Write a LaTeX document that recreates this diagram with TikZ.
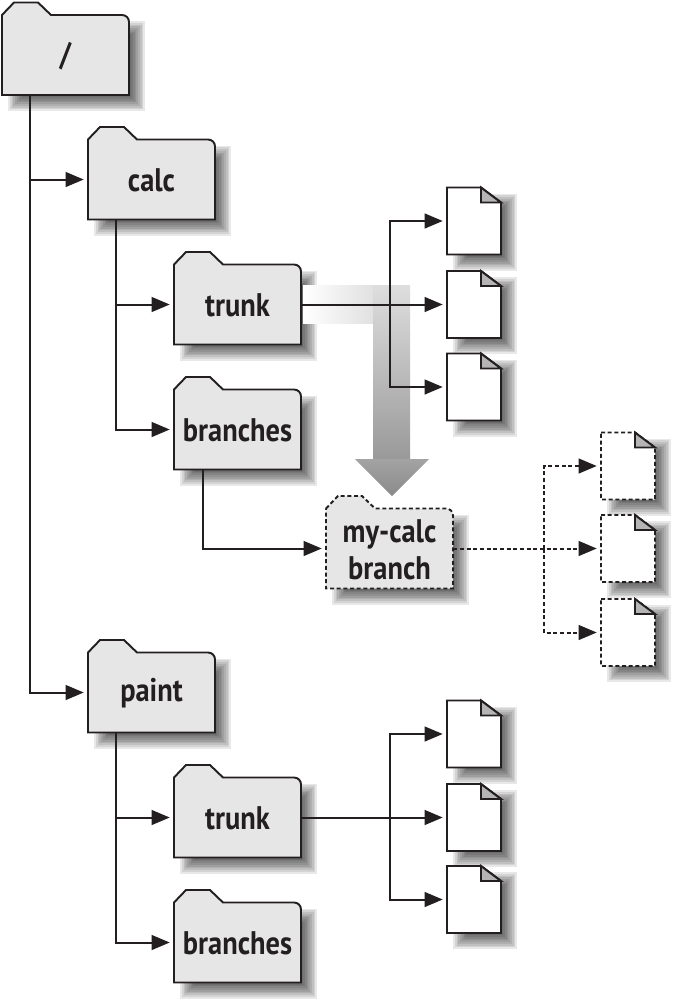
\documentclass[tikz,border=0pt]{standalone}
\usepackage{fontspec}
\setmainfont[BoldFont={PT Sans Bold},BoldFeatures={FakeStretch=0.87}]{PT Sans}
\usetikzlibrary{arrows.meta}
\definecolor{ink}{HTML}{231F20}
\definecolor{foldergray}{HTML}{E6E6E6}
\definecolor{foldcorner}{HTML}{B5B5B5}
\tikzset{
  x=0.75pt, y=-0.75pt,
  outline/.style={draw=ink, line width=1.45pt, line join=miter},
  dashedline/.style={dash pattern=on 3pt off 2pt},
  conn/.style={draw=ink, line width=1.5pt, -{Triangle[length=13.5pt,width=11pt]}, shorten >=3pt},
  label/.style={font=\fontsize{24.5}{27.5}\selectfont\bfseries, text=ink, align=center, inner sep=0pt},
  folderbody/.style={minimum width=95.25pt, minimum height=60pt, inner sep=0pt},
  docbody/.style={minimum width=40.5pt, minimum height=50.25pt, inner sep=0pt},
}
% shadow: rectangle x0 y0 x1 y1 spread into a soft edge
\newcommand{\softshadow}[4]{%
  \foreach \r in {-7,-5.25,-3.5,-1.75,0,1.75,3.5,5.25,7}{%
    \fill[black, opacity=0.09] ({#1+13-\r},{#2+13-\r}) rectangle ({#3+9+\r},{#4+9+\r});
  }%
}
% \filefolder[style]{name}{x}{y}{text}
\newcommand{\filefolder}[5][]{%
  \softshadow{#3}{#4+12.5}{#3+127}{#4+92.5}
  \path[outline, fill=foldergray, #1]
    (#3,#4+12.5) -- ({#3+12},#4) -- ({#3+36},#4) -- ({#3+49},{#4+12.5}) -- ({#3+120},{#4+12.5})
    .. controls ({#3+124},{#4+12.5}) and ({#3+127},{#4+15.5}) .. ({#3+127},{#4+19.5})
    -- ({#3+127},{#4+92.5}) -- (#3,{#4+92.5}) -- cycle;
  \node[folderbody] (#2) at ({#3+63.5},{#4+52.5}) {};
  \node[label] (#2text) at ({#3+63.5},{#4+53.5}) {#5};
}
% \filedoc[style]{name}{x}{y}
\newcommand{\filedoc}[4][]{%
  \softshadow{#3}{#4}{#3+54}{#4+67}
  \path[outline, fill=white, #1]
    (#3,#4) -- ({#3+34},#4) -- ({#3+54},{#4+15}) -- ({#3+54},{#4+67}) -- (#3,{#4+67}) -- cycle;
  \path[outline, fill=foldcorner] ({#3+34},#4) -- ({#3+34},{#4+15}) -- ({#3+54},{#4+15}) -- cycle;
  \node[docbody] (#2) at ({#3+27},{#4+33.5}) {};
}
\begin{document}
\begin{tikzpicture}
\useasboundingbox (0,0) rectangle (674,1000);
\filefolder{root}{2}{2.5}{/}
\filefolder{calc}{88}{127}{calc}
\filefolder{trunkA}{174}{252}{trunk}
\filefolder{branchesA}{174}{377}{branches}
\filefolder{paint}{88}{640}{paint}
\filefolder{trunkB}{174}{765}{trunk}
\filefolder{branchesB}{174}{890}{branches}
\filedoc{a1}{447}{187.5}
\filedoc{a2}{447}{271}
\filedoc{a3}{447}{353.5}
\filedoc{b1}{447}{700.5}
\filedoc{b2}{447}{784}
\filedoc{b3}{447}{866}
\filedoc[dashedline]{c1}{601}{432.5}
\filedoc[dashedline]{c2}{601}{515}
\filedoc[dashedline]{c3}{601}{599}
% copy arrow
\shade[left color=white, right color=black!12, shading angle=90, draw=none] (303,285) rectangle (374,323);
\shade[top color=black!13, bottom color=black!40] (373.5,285) rectangle (410,459.5);
\shade[top color=black!36, bottom color=black!46] (355,459) -- (429,459) -- (392,496) -- cycle;
\filefolder[dashedline]{mycalc}{326}{496}{my-calc\\branch}
% connectors
\coordinate (rootdrop) at (30,95);
\coordinate (calcdrop) at (116,219.5);
\coordinate (paintdrop) at (116,732.5);
\coordinate (branchdrop) at (203,469.5);
\coordinate (splitA) at (389.5,304.5);
\coordinate (splitB) at (389.5,817.5);
\coordinate (splitC) at (544,548.5);
\draw[conn] (rootdrop) |- (calc.west);
\draw[conn] (rootdrop) |- (paint.west);
\draw[conn] (calcdrop) |- (trunkA.west);
\draw[conn] (calcdrop) |- (branchesA.west);
\draw[conn] (paintdrop) |- (trunkB.west);
\draw[conn] (paintdrop) |- (branchesB.west);
\draw[conn] (branchdrop) |- (mycalc.west);
\draw[conn] (trunkA.east) -- (a2.west);
\draw[conn] (splitA) |- (a1.west);
\draw[conn] (splitA) |- (a3.west);
\draw[conn] (trunkB.east) -- (b2.west);
\draw[conn] (splitB) |- (b1.west);
\draw[conn] (splitB) |- (b3.west);
\draw[conn, dashedline] (mycalc.east) -- (c2.west);
\draw[conn, dashedline] (splitC) |- (c1.west);
\draw[conn, dashedline] (splitC) |- (c3.west);
\end{tikzpicture}
\end{document}
